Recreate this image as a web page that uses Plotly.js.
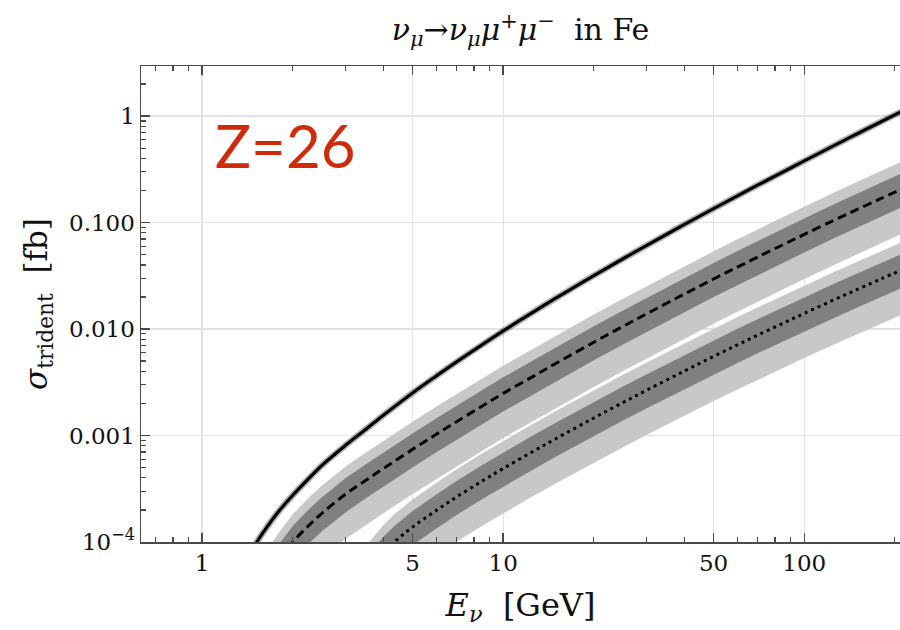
<!DOCTYPE html>
<html>
<head>
<meta charset="utf-8">
<script src="https://cdn.plot.ly/plotly-3.0.1.min.js"></script>
<style>html,body{margin:0;padding:0;background:#fff;}#chart{width:900px;height:630px;}</style>
</head>
<body>
<div id="chart"></div>
<script>
// ---- data (E in GeV, sigma in fb) ----
const E_solid = [1.4, 1.52, 1.6, 1.8, 2, 2.25, 2.5, 3, 3.5, 4, 5, 6, 7, 8.5, 10, 12.5, 15, 20, 25, 30, 40, 50, 60, 70, 85, 100, 125, 150, 180, 210];
const sigma_solid = [6.31e-5, 1.0e-4, 1.245e-4, 1.95e-4, 2.75e-4, 3.89e-4, 5.25e-4, 8.13e-4, 1.148e-3, 1.55e-3, 2.51e-3, 3.63e-3, 4.91e-3, 7.10e-3, 9.59e-3, 1.429e-2, 1.959e-2, 3.177e-2, 4.57e-2, 6.11e-2, 9.59e-2, 0.1352, 0.1782, 0.2244, 0.2985, 0.3793, 0.5248, 0.6823, 0.885, 1.102];

const E_dashed = [1.6, 1.8, 2, 2.25, 2.5, 3, 3.5, 4, 5, 6, 7, 8.5, 10, 12.5, 15, 20, 25, 30, 40, 50, 60, 70, 85, 100, 125, 150, 180, 210];
const sigma_dashed = [4.17e-5, 6.76e-5, 1.0e-4, 1.41e-4, 1.86e-4, 2.82e-4, 3.80e-4, 4.90e-4, 7.41e-4, 1.028e-3, 1.349e-3, 1.884e-3, 2.489e-3, 3.556e-3, 4.775e-3, 7.516e-3, 1.059e-2, 1.393e-2, 2.133e-2, 2.951e-2, 3.819e-2, 4.742e-2, 6.194e-2, 7.745e-2, 0.1045, 0.1327, 0.1683, 0.2051];
const dashed_dark_hi = [5.89e-5, 9.55e-5, 1.41e-4, 2.00e-4, 2.63e-4, 3.98e-4, 5.37e-4, 6.92e-4, 1.047e-3, 1.452e-3, 1.905e-3, 2.661e-3, 3.516e-3, 5.023e-3, 6.745e-3, 1.062e-2, 1.496e-2, 1.968e-2, 3.013e-2, 4.169e-2, 5.395e-2, 6.699e-2, 8.750e-2, 0.1094, 0.1476, 0.1875, 0.2377, 0.2897];
const dashed_dark_lo = [2.82e-5, 4.57e-5, 6.76e-5, 9.55e-5, 1.259e-4, 1.905e-4, 2.57e-4, 3.31e-4, 5.01e-4, 6.950e-4, 9.120e-4, 1.274e-3, 1.683e-3, 2.404e-3, 3.228e-3, 5.082e-3, 7.161e-3, 9.419e-3, 1.442e-2, 1.995e-2, 2.582e-2, 3.206e-2, 4.188e-2, 5.236e-2, 7.063e-2, 8.974e-2, 0.1138, 0.1387];
const dashed_light_hi = [7.59e-5, 1.23e-4, 1.82e-4, 2.57e-4, 3.39e-4, 5.13e-4, 6.92e-4, 8.91e-4, 1.35e-3, 1.871e-3, 2.455e-3, 3.428e-3, 4.529e-3, 6.471e-3, 8.690e-3, 1.368e-2, 1.928e-2, 2.535e-2, 3.882e-2, 5.370e-2, 6.950e-2, 8.630e-2, 0.1127, 0.1409, 0.1901, 0.2415, 0.3062, 0.3733];
const dashed_light_lo = [1.585e-5, 2.57e-5, 3.80e-5, 5.37e-5, 7.08e-5, 1.072e-4, 1.445e-4, 1.86e-4, 2.82e-4, 3.908e-4, 5.129e-4, 7.161e-4, 9.462e-4, 1.352e-3, 1.816e-3, 2.858e-3, 4.027e-3, 5.297e-3, 8.110e-3, 1.122e-2, 1.452e-2, 1.803e-2, 2.355e-2, 2.944e-2, 3.972e-2, 5.047e-2, 6.397e-2, 7.798e-2];

const E_dotted = [3.2, 3.6, 4, 4.35, 5, 6, 7, 8.5, 10, 12.5, 15, 20, 25, 30, 40, 50, 60, 70, 85, 100, 125, 150, 180, 210];
const sigma_dotted = [3.715e-5, 5.623e-5, 7.943e-5, 1.0e-4, 1.380e-4, 1.982e-4, 2.649e-4, 3.724e-4, 4.898e-4, 7.031e-4, 9.376e-4, 1.462e-3, 2.042e-3, 2.667e-3, 4.036e-3, 5.534e-3, 7.112e-3, 8.750e-3, 1.132e-2, 1.403e-2, 1.871e-2, 2.355e-2, 2.958e-2, 3.573e-2];
const dotted_dark_hi = [5.248e-5, 7.943e-5, 1.122e-4, 1.413e-4, 1.950e-4, 2.799e-4, 3.741e-4, 5.260e-4, 6.918e-4, 9.931e-4, 1.324e-3, 2.065e-3, 2.884e-3, 3.767e-3, 5.702e-3, 7.816e-3, 1.005e-2, 1.236e-2, 1.600e-2, 1.982e-2, 2.642e-2, 3.327e-2, 4.178e-2, 5.047e-2];
const dotted_dark_lo = [2.512e-5, 3.802e-5, 5.370e-5, 6.761e-5, 9.333e-5, 1.340e-4, 1.791e-4, 2.518e-4, 3.311e-4, 4.753e-4, 6.339e-4, 9.886e-4, 1.380e-3, 1.803e-3, 2.729e-3, 3.741e-3, 4.808e-3, 5.916e-3, 7.656e-3, 9.484e-3, 1.265e-2, 1.592e-2, 2.000e-2, 2.415e-2];
const dotted_light_hi = [6.761e-5, 1.023e-4, 1.445e-4, 1.820e-4, 2.512e-4, 3.606e-4, 4.819e-4, 6.776e-4, 8.913e-4, 1.279e-3, 1.706e-3, 2.661e-3, 3.715e-3, 4.853e-3, 7.345e-3, 1.007e-2, 1.294e-2, 1.592e-2, 2.061e-2, 2.553e-2, 3.404e-2, 4.285e-2, 5.383e-2, 6.501e-2];
const dotted_light_lo = [1.413e-5, 2.138e-5, 3.020e-5, 3.802e-5, 5.248e-5, 7.534e-5, 1.007e-4, 1.416e-4, 1.862e-4, 2.673e-4, 3.565e-4, 5.559e-4, 7.762e-4, 1.014e-3, 1.535e-3, 2.104e-3, 2.704e-3, 3.327e-3, 4.305e-3, 5.333e-3, 7.112e-3, 8.954e-3, 1.125e-2, 1.358e-2];

// ---- ticks ----
const xTickVals = [1, 5, 10, 50, 100];
const xTickText = ["1", "5", "10", "50", "100"];
const xMinorVals = [0.7, 0.8, 0.9, 2, 3, 4, 6, 7, 8, 9, 20, 30, 40, 60, 70, 80, 90, 200];
const yTickVals = [1e-4, 1e-3, 1e-2, 0.1, 1];
const yTickText = ["10<sup>\u22124</sup>", "0.001", "0.010", "0.100", "1"];
const yMinorVals = [2e-4,3e-4,4e-4,5e-4,6e-4,7e-4,8e-4,9e-4,2e-3,3e-3,4e-3,5e-3,6e-3,7e-3,8e-3,9e-3,0.02,0.03,0.04,0.05,0.06,0.07,0.08,0.09,0.2,0.3,0.4,0.5,0.6,0.7,0.8,0.9,2];

const LIGHT = "rgb(200,200,200)";
const DARK = "rgb(128,128,128)";
const SERIF = "DejaVu Serif, Liberation Serif, serif";

function edge(x, y) { return {x: x, y: y, mode: "lines", line: {width: 0, color: "rgba(0,0,0,0)"}, hoverinfo: "skip", showlegend: false}; }
function band(x, y, col) { const t = edge(x, y); t.fill = "tonexty"; t.fillcolor = col; return t; }

const traces = [
  edge(E_dashed, dashed_light_hi), band(E_dashed, dashed_light_lo, LIGHT),
  edge(E_dashed, dashed_dark_hi), band(E_dashed, dashed_dark_lo, DARK),
  {x: E_dashed, y: sigma_dashed, mode: "lines", line: {color: "#000", width: 3, dash: "9px,5px", shape: "spline"}, showlegend: false},
  edge(E_dotted, dotted_light_hi), band(E_dotted, dotted_light_lo, LIGHT),
  edge(E_dotted, dotted_dark_hi), band(E_dotted, dotted_dark_lo, DARK),
  {x: E_dotted, y: sigma_dotted, mode: "lines", line: {color: "#000", width: 3, dash: "3px,4px", shape: "spline"}, showlegend: false},
  {x: E_solid, y: sigma_solid, mode: "lines", line: {color: "rgba(0,0,0,0.3)", width: 6.5, shape: "spline"}, showlegend: false},
  {x: E_solid, y: sigma_solid, mode: "lines", line: {color: "#000", width: 3.2, shape: "spline"}, showlegend: false}
];

const axisCommon = {
  type: "log", showline: true, linecolor: "#4a4a4a", linewidth: 1.5,
  ticks: "inside", ticklen: 9, tickwidth: 1.5, tickcolor: "#4a4a4a",
  showgrid: true, gridcolor: "#e2e2e2", gridwidth: 1.3, zeroline: false,
  tickfont: {family: SERIF, size: 23, color: "#111"}
};

const layout = {
  width: 900, height: 630,
  margin: {l: 141, r: 0, t: 66, b: 88},
  paper_bgcolor: "#fff", plot_bgcolor: "#fff",
  showlegend: false, hovermode: false,
  title: {text: "<i>\u03bd<sub>\u03bc</sub></i>\u2192<i>\u03bd<sub>\u03bc</sub>\u03bc</i><sup>+</sup><i>\u03bc</i><sup>\u2212</sup>\u00a0\u00a0in Fe",
          font: {family: SERIF, size: 30, color: "#111"}, xref: "paper", x: 0.5, xanchor: "center", yref: "container", y: 0.953, yanchor: "middle"},
  xaxis: Object.assign({}, axisCommon, {
    range: [-0.203, 2.318], mirror: "ticks",
    tickmode: "array", tickvals: xTickVals, ticktext: xTickText,
    minor: {tickmode: "array", tickvals: xMinorVals, ticks: "inside", ticklen: 5, tickwidth: 1.2, tickcolor: "#4a4a4a", showgrid: false},
    title: {text: "<i>E<sub>\u03bd</sub></i>\u00a0\u00a0[GeV]", font: {family: SERIF, size: 32, color: "#111"}, standoff: 18}
  }),
  yaxis: Object.assign({}, axisCommon, {
    range: [-4, 0.47], mirror: false,
    tickmode: "array", tickvals: yTickVals, ticktext: yTickText,
    minor: {tickmode: "array", tickvals: yMinorVals, ticks: "inside", ticklen: 5, tickwidth: 1.2, tickcolor: "#4a4a4a", showgrid: false},
    title: {text: "<i>\u03c3</i><sub>trident</sub>\u00a0\u00a0[fb]", font: {family: SERIF, size: 31, color: "#111"}, standoff: 12}
  }),
  annotations: [{
    text: "Z=26", xref: "paper", yref: "paper", x: 0.191, y: 0.833, xanchor: "center", yanchor: "middle",
    showarrow: false, font: {family: "Lato, Noto Sans, sans-serif", size: 60, color: "#d02a0c"}
  }]
};

Plotly.newPlot("chart", traces, layout, {staticPlot: true, displayModeBar: false});
</script>
</body>
</html>
